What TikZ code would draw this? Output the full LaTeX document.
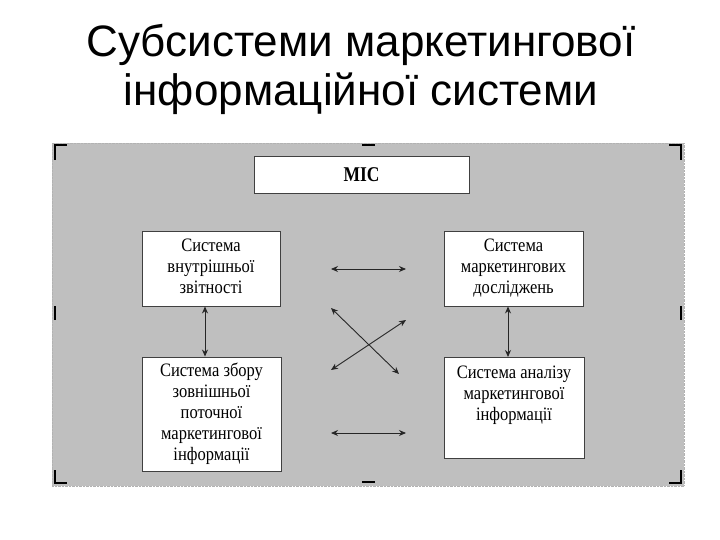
\documentclass[tikz,border=0pt]{standalone}
\usepackage{fontspec}
\usepackage{graphicx}
\setmainfont{Liberation Serif}
\newfontfamily\titlefont{Liberation Sans}
\usetikzlibrary{arrows.meta}
\newcommand\talltext[1]{\scalebox{1}[1.15]{\fontsize{16.5}{18.3}\selectfont\begin{tabular}{@{}c@{}}#1\end{tabular}}}
\begin{document}
\begin{tikzpicture}[x=1pt,y=-1pt,
  box/.style={draw=black!75,line width=0.9pt,fill=white,inner sep=0pt,align=center},
  conn/.style={{Stealth[length=7pt,width=6pt]}-{Stealth[length=7pt,width=6pt]},line width=0.9pt,black!85},
  crop/.style={line width=2.6pt,black}]
\useasboundingbox (0,0) rectangle (720,540);
% title
\node[font=\titlefont\fontsize{44}{49}\selectfont,align=center,anchor=center] (title) at (361,69)
  {Субсистеми маркетингової\\інформаційної системи};
% background panel
\node[draw=black!30,densely dotted,fill=black!25,minimum width=632pt,minimum height=343pt,inner sep=0pt] (panel) at (368,314.5) {};
% crop marks
\draw[crop] (55,160) -- (55,145) -- (67,145);
\draw[crop] (669,145) -- (681,145) -- (681,160);
\draw[crop] (55,470) -- (55,483) -- (67,483);
\draw[crop] (669,483) -- (681,483) -- (681,470);
\draw[crop] (55,306) -- (55,320);
\draw[crop] (681,306) -- (681,320);
\draw[crop] (362,145) -- (375,145);
\draw[crop] (362,482) -- (375,482);
% boxes
\node[box,minimum width=215pt,minimum height=37pt] (mis) at (361.5,174.5) {\scalebox{1}[1.2]{\fontsize{17.5}{20}\selectfont\bfseries МІС}};
\node[box,minimum width=138pt,minimum height=75pt] (tl) at (211,268.5) {\talltext{Система\\внутрішньої\\звітності}};
\node[box,minimum width=139pt,minimum height=75pt] (tr) at (513.5,268.5) {\talltext{Система\\маркетингових\\досліджень}};
\node[box,minimum width=139pt,minimum height=114pt] (bl) at (211.5,414) {\talltext{Система збору\\зовнішньої\\поточної\\маркетингової\\інформації}};
\node[box,minimum width=140pt,minimum height=101pt,anchor=north] (br) at (514,357) {};
\node[box,draw=none,fill=none,anchor=north] (brt) at (br.north) [yshift=-6pt] {\talltext{Система аналізу\\маркетингової\\інформації}};
% connector end points
\coordinate (h1a) at (331,269);
\coordinate (h1b) at (406,269);
\coordinate (h2a) at (331,433);
\coordinate (h2b) at (406,433);
\coordinate (x1a) at (331,308);
\coordinate (x1b) at (399,374);
\coordinate (x2a) at (406,320);
\coordinate (x2b) at (331,370);
% connectors
\draw[conn] ([xshift=-6pt]tl.south) -- ([xshift=-6.5pt]bl.north);
\draw[conn] ([xshift=-5.5pt]tr.south) -- ([xshift=-6pt]br.north);
\draw[conn] (h1a) -- (h1b);
\draw[conn] (h2a) -- (h2b);
\draw[conn] (x1a) -- (x1b);
\draw[conn] (x2a) -- (x2b);
\end{tikzpicture}
\end{document}
